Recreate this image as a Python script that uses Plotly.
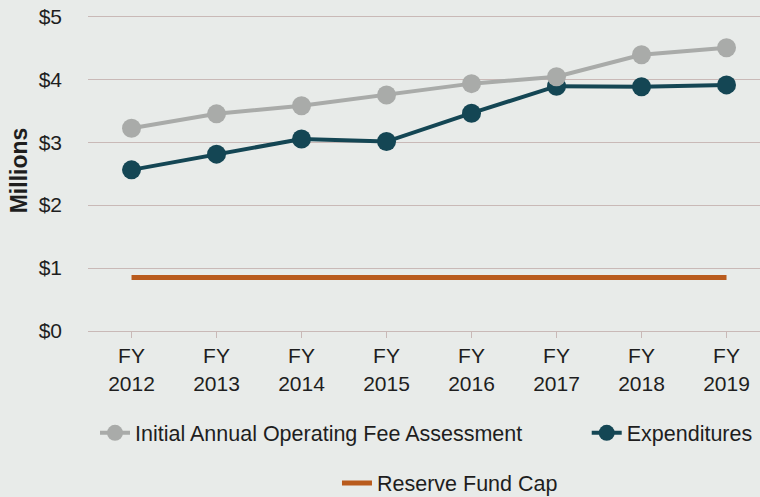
import plotly.graph_objects as go

categories = ["FY<br>2012", "FY<br>2013", "FY<br>2014", "FY<br>2015",
              "FY<br>2016", "FY<br>2017", "FY<br>2018", "FY<br>2019"]
assessment = [3.22, 3.45, 3.58, 3.75, 3.93, 4.04, 4.39, 4.50]
expenditures = [2.56, 2.81, 3.05, 3.01, 3.46, 3.89, 3.88, 3.91]
reserve_cap = [0.85] * 8
ytick_vals = [0, 1, 2, 3, 4, 5]
ytick_text = ["$0", "$1", "$2", "$3", "$4", "$5"]

FONT = "Liberation Sans, Arial, sans-serif"
TXT = "#1e1e1e"
BG = "#e8ebe9"
GRID = "#c9b9b7"

fig = go.Figure()
fig.add_trace(go.Scatter(
    x=categories, y=reserve_cap, mode="lines", name="Reserve Fund Cap",
    line=dict(color="#b95b1d", width=5), legend="legend3"))
fig.add_trace(go.Scatter(
    x=categories, y=expenditures, mode="lines+markers", name="Expenditures",
    line=dict(color="#144654", width=4), marker=dict(size=19, color="#144654"),
    legend="legend2"))
fig.add_trace(go.Scatter(
    x=categories, y=assessment, mode="lines+markers",
    name="Initial Annual Operating Fee Assessment",
    line=dict(color="#a9aba9", width=4), marker=dict(size=19, color="#a9aba9"),
    legend="legend"))

leg_common = dict(font=dict(family=FONT, size=21.5, color=TXT), bgcolor="rgba(0,0,0,0)",
                  orientation="h", yanchor="middle", xanchor="left",
                  xref="container", yref="container")

fig.update_layout(
    width=760, height=497,
    margin=dict(l=88, r=0, t=10, b=166),
    paper_bgcolor=BG, plot_bgcolor=BG,
    font=dict(family=FONT, size=21, color=TXT),
    showlegend=True,
    legend=dict(x=0.125, y=0.129, **leg_common),
    legend2=dict(x=0.772, y=0.129, **leg_common),
    legend3=dict(x=0.4434, y=0.028, **leg_common),
    xaxis=dict(
        range=[-0.512, 7.394], showgrid=False,
        showline=True, linecolor=GRID, linewidth=1,
        ticks="outside", ticklen=6, tickcolor=GRID,
        tickfont=dict(family=FONT, size=21, color=TXT),
    ),
    yaxis=dict(
        range=[0, 5.1], tickvals=ytick_vals, ticktext=ytick_text,
        showgrid=True, gridcolor=GRID, gridwidth=1, zeroline=False,
        tickfont=dict(family=FONT, size=21, color=TXT),
        ticklabelstandoff=25,
        title=dict(text="<b>Millions</b>", font=dict(family=FONT, size=23, color=TXT),
                   standoff=4),
    ),
)

fig.write_html(
    "out.html",
    config={"displayModeBar": False},
    post_script="document.body.style.margin='0';document.body.style.overflow='hidden';",
)
